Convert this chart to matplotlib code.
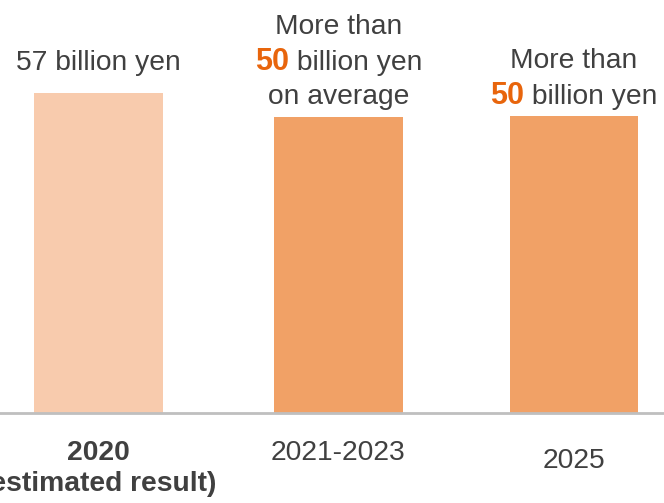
import matplotlib.pyplot as plt
from matplotlib.offsetbox import TextArea, HPacker, VPacker, AnnotationBbox

plt.rcParams['font.family'] = ['Liberation Sans', 'DejaVu Sans']

categories = ['2020', '2021-2023', '2025']
sub_labels = ['(estimated result)', '', '']
values = [57, 52.8, 53]   # billion yen
bar_colors = ['#F8CBAD', '#F1A166', '#F1A166']
# value labels: list of lines, each line a list of (text, highlighted)
value_labels = [
    [[('57 billion yen', False)]],
    [[('More than', False)], [('50', True), (' billion yen', False)], [('on average', False)]],
    [[('More than', False)], [('50', True), (' billion yen', False)]],
]

text_color = '#404040'
accent = '#E8650C'
fs = 20.3
label_gap = [12.5, 5, 3]   # points between bar top and its label

fig = plt.figure(figsize=(6.64, 5.03), dpi=100)
ax = fig.add_axes([0, 0.179, 1, 0.821])

pos = [0, 1, 1.98]
ax.bar(pos, values, width=0.535, color=bar_colors)
ax.set_xlim(-0.41, 2.356)
ax.set_ylim(0, 73.6)

for s in ['top', 'left', 'right']:
    ax.spines[s].set_visible(False)
ax.spines['bottom'].set_color('#BFBFBF')
ax.spines['bottom'].set_linewidth(2)
ax.set_yticks([])
ax.set_xticks([])

# stacked labels above the bars, highlighted figure a bit larger
for x, v, lines, gap in zip(pos, values, value_labels, label_gap):
    rows = []
    for line in lines:
        parts = []
        for txt, hi in line:
            if hi:
                props = dict(fontsize=22, color=accent, fontweight='bold')
            else:
                props = dict(fontsize=fs, color=text_color)
            parts.append(TextArea(txt, textprops=props))
        rows.append(HPacker(children=parts, pad=0, sep=0, align='baseline'))
    box = VPacker(children=rows, pad=0, sep=5, align='center')
    ab = AnnotationBbox(box, (x, v), xybox=(0, gap), xycoords='data',
                        boxcoords='offset points', box_alignment=(0.5, 0),
                        frameon=False)
    ax.add_artist(ab)

# category labels under the axis
tr = ax.get_xaxis_transform()
ax.text(pos[0], -0.065, categories[0] + '\n' + sub_labels[0], transform=tr,
        ha='center', va='top', fontsize=fs, fontweight='bold',
        color=text_color, linespacing=1.25)
ax.text(pos[1], -0.065, categories[1], transform=tr, ha='center', va='top',
        fontsize=fs, color=text_color)
ax.text(pos[2], -0.085, categories[2], transform=tr, ha='center', va='top',
        fontsize=fs, color=text_color)

fig.savefig('out.png', dpi=100)
